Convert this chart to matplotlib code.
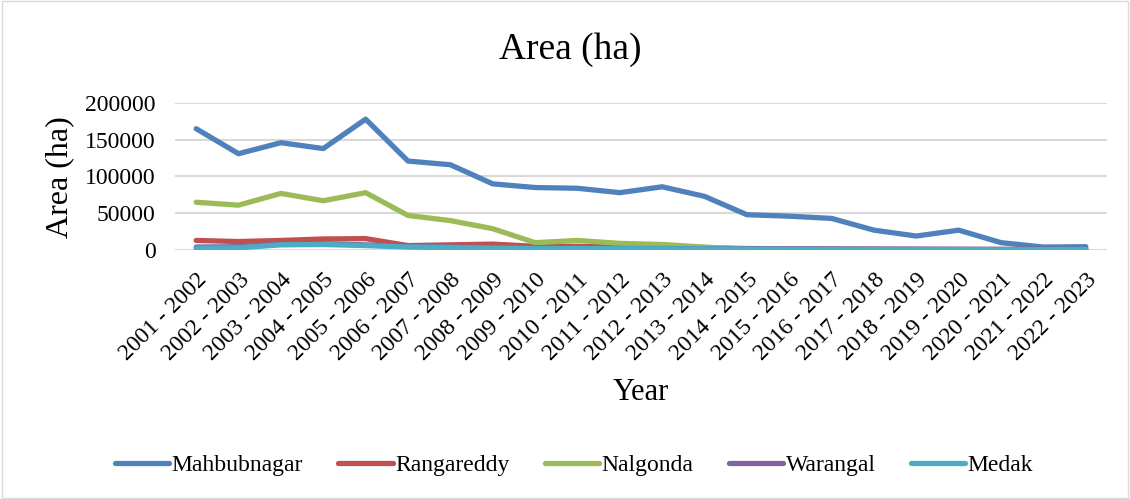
import matplotlib.pyplot as plt

years = ['2001 - 2002', '2002 - 2003', '2003 - 2004', '2004 - 2005', '2005 - 2006',
         '2006 - 2007', '2007 - 2008', '2008 - 2009', '2009 - 2010', '2010 - 2011',
         '2011 - 2012', '2012 - 2013', '2013 - 2014', '2014 - 2015', '2015 - 2016',
         '2016 - 2017', '2017 - 2018', '2018 - 2019', '2019 - 2020', '2020 - 2021',
         '2021 - 2022', '2022 - 2023']

mahbubnagar = [165000, 131000, 146000, 138000, 178000, 121000, 116000, 90000, 85000, 84000,
               78000, 86000, 73000, 48000, 46000, 43000, 27000, 19000, 27000, 10000, 4000, 4500]
rangareddy = [13000, 11500, 13000, 15000, 15500, 6000, 7000, 8000, 5000, 5000,
              4000, 3500, 3000, 2000, 1800, 1500, 1200, 1000, 900, 800, 700, 600]
nalgonda = [65000, 61000, 77000, 67000, 78000, 47000, 40000, 29000, 10000, 13000,
            9000, 7500, 4000, 1000, 800, 600, 500, 400, 400, 300, 300, 300]
warangal = [4000, 4500, 8000, 8500, 7000, 5000, 4000, 3000, 2500, 2500,
            2200, 2000, 1800, 1500, 1300, 1200, 1000, 900, 800, 700, 600, 600]
medak = [2500, 3000, 7000, 7500, 6000, 4000, 3500, 2500, 2000, 2000,
         1800, 1700, 1500, 1200, 1100, 1000, 900, 800, 700, 600, 500, 500]

plt.rcParams['font.family'] = ['Liberation Serif', 'DejaVu Serif']

W, H = 1130, 499
fig = plt.figure(figsize=(W / 100, H / 100), dpi=100)
# plot area in pixels: x 175..1107, y 103..250
ax = fig.add_axes([175 / W, 1 - 250 / H, (1107 - 175) / W, (250 - 103) / H])

x = range(len(years))
lw = 3.8
ax.plot(x, mahbubnagar, color='#4F81BD', lw=lw, label='Mahbubnagar', solid_capstyle='round')
ax.plot(x, rangareddy, color='#C0504D', lw=lw, label='Rangareddy', solid_capstyle='round')
ax.plot(x, nalgonda, color='#9BBB59', lw=lw, label='Nalgonda', solid_capstyle='round')
ax.plot(x, warangal, color='#8064A2', lw=lw, label='Warangal', solid_capstyle='round')
ax.plot(x, medak, color='#4BACC6', lw=lw, label='Medak', solid_capstyle='round')

ax.set_xlim(-0.5, len(years) - 0.5)
ax.set_ylim(0, 200000)
ax.set_yticks([0, 50000, 100000, 150000, 200000])
ax.set_yticklabels(['0', '50000', '100000', '150000', '200000'])
ax.set_xticks(list(x))
ax.set_xticklabels(years, rotation=45, ha='right', rotation_mode='anchor')
ax.tick_params(axis='y', length=0, labelsize=17, pad=14)
ax.tick_params(axis='x', length=0, labelsize=17, pad=14)
ax.grid(axis='y', color='#D9D9D9', lw=1.5)
ax.set_axisbelow(True)
for s in ax.spines.values():
    s.set_visible(False)

fig.text(570 / W, 1 - 50 / H, 'Area (ha)', fontsize=27, ha='center', va='center')
fig.text(641 / W, 1 - 393 / H, 'Year', fontsize=22, ha='center', va='center')
fig.text(60 / W, 1 - 177 / H, 'Area (ha)', fontsize=23, ha='center', va='center', rotation=90)

fig.legend(loc='center', bbox_to_anchor=(574 / W, 1 - 465 / H), ncol=5, frameon=False,
           fontsize=17, handlelength=2.3, handletextpad=0.1, columnspacing=1.5)

fig.patches.append(plt.Rectangle((0.002, 0.002), 0.996, 0.996, transform=fig.transFigure,
                                 fill=False, edgecolor='#D9D9D9', lw=1))

fig.savefig('out.png', dpi=100)
